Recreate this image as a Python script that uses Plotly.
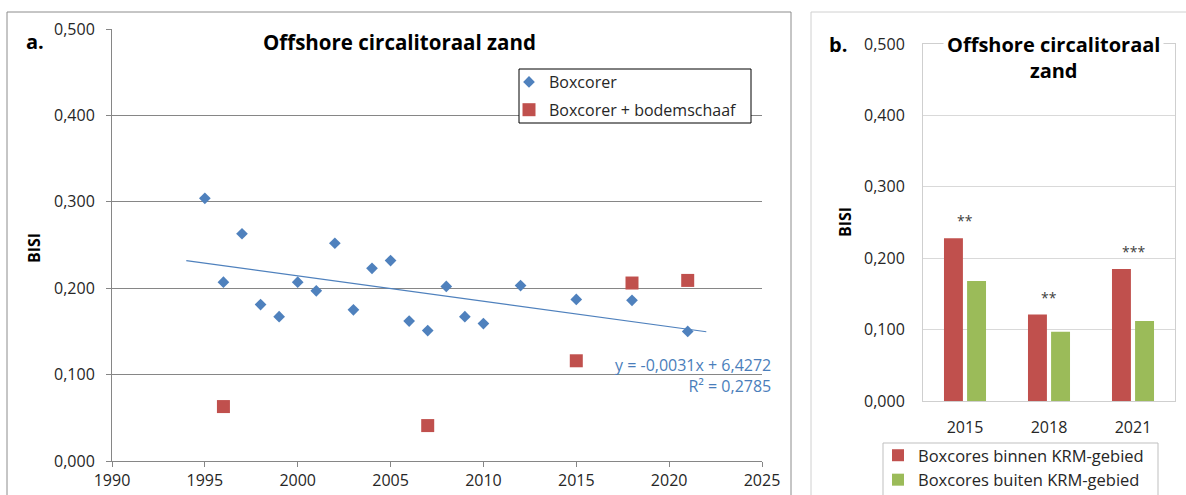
import numpy as np
import plotly.graph_objects as go

# ---------------- data ----------------
YEARS_BOX = [1995, 1996, 1997, 1998, 1999, 2000, 2001, 2002, 2003, 2004,
             2005, 2006, 2007, 2008, 2009, 2010, 2012, 2015, 2018, 2021]
BISI_BOX = [0.304, 0.207, 0.263, 0.181, 0.167, 0.207, 0.197, 0.252, 0.175, 0.223,
            0.232, 0.162, 0.151, 0.202, 0.167, 0.159, 0.203, 0.187, 0.186, 0.150]
YEARS_SCHAAF = [1996, 2007, 2015, 2018, 2021]
BISI_SCHAAF = [0.063, 0.041, 0.116, 0.206, 0.209]
TREND_SPAN = [1994, 2022]
TREND_LABEL = "y = -0,0031x + 6,4272<br>R² = 0,2785"

BAR_YEARS = ["2015", "2018", "2021"]
BISI_BINNEN = [0.228, 0.121, 0.185]
BISI_BUITEN = [0.168, 0.097, 0.112]
SIG_LABELS = ["**", "**", "***"]

TITLE = "Offshore circalitoraal zand"
TITLE_B = "Offshore circalitoraal<br>zand"

# ---------------- helpers ----------------
W, H = 1186, 495
def px(x):
    return x / W
def py(y):
    return 1 - y / H

FONT = "Open Sans, DejaVu Sans, sans-serif"
BLUE = "#4f81bd"
RED = "#c0504d"
GREEN = "#9bbb59"
TXT = "#262626"

fig = go.Figure()

# trend line from least-squares fit of Boxcorer points
slope, intercept = np.polyfit(YEARS_BOX, BISI_BOX, 1)
tx = np.array(TREND_SPAN, dtype=float)
fig.add_trace(go.Scatter(x=tx, y=slope * tx + intercept, mode="lines",
                         line=dict(color=BLUE, width=1.2), showlegend=False,
                         hoverinfo="skip", xaxis="x", yaxis="y"))

fig.add_trace(go.Scatter(x=YEARS_BOX, y=BISI_BOX, mode="markers", name="Boxcorer",
                         marker=dict(symbol="diamond", size=9, color=BLUE),
                         legendgroup="a1", xaxis="x", yaxis="y"))
fig.add_trace(go.Scatter(x=YEARS_SCHAAF, y=BISI_SCHAAF, mode="markers",
                         name="Boxcorer + bodemschaaf",
                         marker=dict(symbol="square", size=13, color=RED),
                         legendgroup="a2", xaxis="x", yaxis="y"))

fig.add_trace(go.Bar(x=BAR_YEARS, y=BISI_BINNEN, name="Boxcores binnen KRM-gebied",
                     marker=dict(color=RED, line=dict(width=0)),
                     xaxis="x2", yaxis="y2", legend="legend2"))
fig.add_trace(go.Bar(x=BAR_YEARS, y=BISI_BUITEN, name="Boxcores buiten KRM-gebied",
                     marker=dict(color=GREEN, line=dict(width=0)),
                     xaxis="x2", yaxis="y2", legend="legend2"))

annotations = [
    dict(text="<b>" + TITLE + "</b>", x=px(399), y=py(42), xref="paper", yref="paper",
         xanchor="center", yanchor="middle", showarrow=False, bgcolor="white",
         borderpad=3, font=dict(size=20.5, color="black", family=FONT)),
    dict(text="<b>a.</b>", x=px(35), y=py(42), xref="paper", yref="paper",
         xanchor="center", yanchor="middle", showarrow=False,
         font=dict(size=20, color="black", family=FONT)),
    dict(text="<b>BISI</b>", x=px(34), y=py(248), xref="paper", yref="paper",
         xanchor="center", yanchor="middle", showarrow=False, textangle=-90,
         font=dict(size=16, color="black", family=FONT)),
    dict(text=TREND_LABEL, x=px(773), y=py(375), xref="paper", yref="paper",
         xanchor="right", yanchor="middle", align="right", showarrow=False,
         font=dict(size=16, color="#4a7ebb", family=FONT)),
    dict(text="<b>" + TITLE_B + "</b>", x=px(1053), y=py(58), xref="paper", yref="paper",
         xanchor="center", yanchor="middle", showarrow=False, bgcolor="white",
         borderpad=3, font=dict(size=20, color="black", family=FONT)),
    dict(text="<b>b.</b>", x=px(838), y=py(44), xref="paper", yref="paper",
         xanchor="center", yanchor="middle", showarrow=False,
         font=dict(size=20, color="black", family=FONT)),
    dict(text="<b>BISI</b>", x=px(845), y=py(222), xref="paper", yref="paper",
         xanchor="center", yanchor="middle", showarrow=False, textangle=-90,
         font=dict(size=16, color="black", family=FONT)),
]
for i, (a, b, lab) in enumerate(zip(BISI_BINNEN, BISI_BUITEN, SIG_LABELS)):
    annotations.append(dict(text=lab, x=i, y=max(a, b), xref="x2", yref="y2",
                            xanchor="center", yanchor="bottom", yshift=6,
                            showarrow=False,
                            font=dict(size=14, color="#404040", family=FONT)))

shapes = [
    # panel frames
    dict(type="rect", xref="paper", yref="paper", x0=px(7), x1=px(791),
         y0=py(520), y1=py(12), line=dict(color="#8c8c8c", width=1)),
    dict(type="rect", xref="paper", yref="paper", x0=px(811), x1=px(1210),
         y0=py(520), y1=py(12), line=dict(color="#d0d0d0", width=1)),
    # legend frames
    dict(type="rect", xref="paper", yref="paper", x0=px(519), x1=px(751),
         y0=py(123), y1=py(69), line=dict(color="black", width=1),
         fillcolor="white", layer="above"),
    dict(type="rect", xref="paper", yref="paper", x0=px(883), x1=px(1158),
         y0=py(505), y1=py(443), line=dict(color="#bfbfbf", width=1),
         fillcolor="white", layer="above"),
]

fig.update_layout(
    width=W, height=H, margin=dict(l=0, r=0, t=0, b=0, autoexpand=False),
    paper_bgcolor="white", plot_bgcolor="rgba(0,0,0,0)",
    separators=", ",
    font=dict(family=FONT, size=16, color=TXT),
    barmode="group", bargap=0.45, bargroupgap=0.18,
    xaxis=dict(domain=[px(112), px(762)], range=[1990, 2025], tick0=1990, dtick=5,
               showline=True, linecolor="#868686", linewidth=1, ticks="outside",
               ticklen=5, tickcolor="#868686", showgrid=False, zeroline=False,
               tickfont=dict(size=16, color=TXT), anchor="y"),
    yaxis=dict(domain=[py(461), py(29)], range=[0, 0.5], tick0=0, dtick=0.1,
               tickformat=".3f", showline=True, linecolor="#868686", linewidth=1,
               ticks="outside", ticklen=5, tickcolor="#868686",
               showgrid=True, gridcolor="#868686", gridwidth=1, zeroline=False,
               ticklabelstandoff=8, tickfont=dict(size=16, color=TXT), anchor="x"),
    xaxis2=dict(domain=[px(923), px(1175)], type="category", anchor="y2",
                showline=True, mirror=True, linecolor="#cfcfcf", linewidth=1,
                ticks="", showgrid=False, zeroline=False, ticklabelstandoff=12,
                tickfont=dict(size=16, color=TXT)),
    yaxis2=dict(domain=[py(401), py(44)], range=[0, 0.5], tick0=0, dtick=0.1,
                tickformat=".3f", anchor="x2", showline=True, mirror=True,
                linecolor="#cfcfcf", linewidth=1, ticks="", showgrid=True,
                gridcolor="#d9d9d9", zeroline=False, ticklabelstandoff=14,
                tickfont=dict(size=16, color=TXT)),
    legend=dict(x=px(509), y=py(65), xanchor="left", yanchor="top",
                borderwidth=0, bgcolor="rgba(0,0,0,0)",
                font=dict(size=16, color=TXT), tracegroupgap=4),
    legend2=dict(x=px(878), y=py(438), xanchor="left", yanchor="top",
                 borderwidth=0, bgcolor="rgba(0,0,0,0)",
                 font=dict(size=16.5, color=TXT)),
    annotations=annotations, shapes=shapes,
)

fig.write_html("out.html", config={"displayModeBar": False},
               post_script="document.body.style.margin='0';document.body.style.padding='0';")
